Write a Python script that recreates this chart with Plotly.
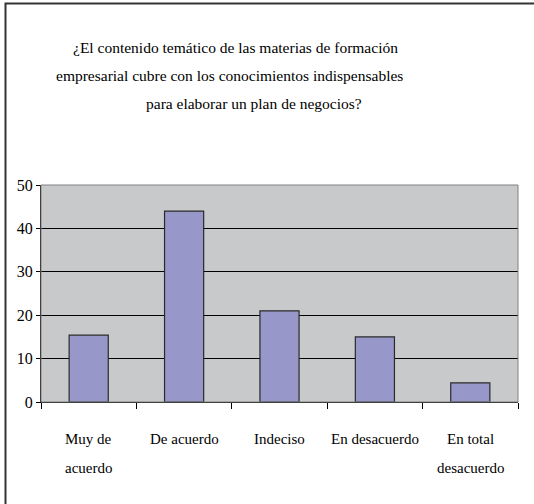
import plotly.graph_objects as go

categories = ["Muy de acuerdo", "De acuerdo", "Indeciso", "En desacuerdo", "En total desacuerdo"]
label_lines = [["Muy de", "acuerdo"], ["De acuerdo"], ["Indeciso"], ["En desacuerdo"], ["En total", "desacuerdo"]]
values = [15.4, 44, 21, 15, 4.4]
y_ticks = [0, 10, 20, 30, 40, 50]
title_lines = [
    "¿El contenido temático de las materias de formación",
    "empresarial cubre con los conocimientos indispensables",
    "para elaborar un plan de negocios?",
]

FONT = "Liberation Serif"
W, H = 534, 504
L, R, T, B = 41, 16, 185, 102
pw, ph = W - L - R, H - T - B

def px_x(x):
    return (x - L) / pw

def px_y(y):
    return (H - B - y) / ph

fig = go.Figure()
fig.add_trace(go.Bar(
    x=categories, y=values, width=0.41,
    marker=dict(color="#9797C9", line=dict(color="#2a2a2a", width=1.2)),
    showlegend=False, hoverinfo="skip",
))

title_x = [235, 229, 254]
title_y = [47, 75, 103]
for t, xc, yc in zip(title_lines, title_x, title_y):
    fig.add_annotation(text=t, x=px_x(xc), y=px_y(yc), xref="paper", yref="paper",
                       xanchor="center", yanchor="middle", showarrow=False,
                       font=dict(family=FONT, size=15.5, color="black"))
line_y = [439, 468]
for cat, lines in zip(categories, label_lines):
    for i, ln in enumerate(lines):
        fig.add_annotation(text=ln, x=cat, y=px_y(line_y[i]), xref="x", yref="paper",
                           xanchor="center", yanchor="middle", showarrow=False,
                           font=dict(family=FONT, size=15, color="black"))

fig.add_shape(type="rect", xref="paper", yref="paper", x0=0, x1=1, y0=0, y1=1,
              line=dict(color="#808080", width=1), layer="above")
fig.add_shape(type="rect", xref="paper", yref="paper", x0=px_x(5.5), x1=px_x(545), y0=px_y(3.5), y1=px_y(515),
              line=dict(color="#333333", width=2), layer="above")

fig.update_layout(
    font=dict(family=FONT, size=15, color="black"),
    width=W, height=H,
    margin=dict(l=L, r=R, t=T, b=B),
    paper_bgcolor="white", plot_bgcolor="#C8C9CB",
    bargap=0.59,
    xaxis=dict(type="category", showticklabels=False, ticks="outside", tickson="boundaries",
               ticklen=6, tickcolor="black", showline=True, linecolor="black", linewidth=1,
               showgrid=False, fixedrange=True),
    yaxis=dict(range=[0, 50], tickvals=y_ticks, ticks="outside", ticklen=4, tickcolor="black",
               showline=True, linecolor="black", linewidth=1, showgrid=True, gridcolor="black",
               gridwidth=1, zeroline=False, tickfont=dict(family=FONT, size=16, color="black"),
               fixedrange=True),
)

fig.write_html("out.html")
